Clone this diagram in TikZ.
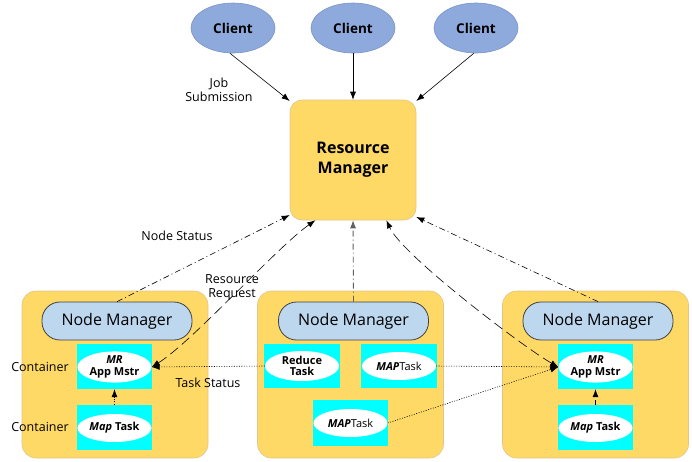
\documentclass[tikz,border=0pt]{standalone}
\usepackage{fontspec}
\setmainfont{Open Sans}
\usetikzlibrary{arrows.meta,shapes.geometric}
\definecolor{clientfill}{HTML}{8EA9DB}
\definecolor{clientdraw}{HTML}{7A93C4}
\definecolor{rmfill}{HTML}{FFD966}
\definecolor{rmdraw}{HTML}{E2C48A}
\definecolor{nmfill}{HTML}{BDD7EE}
\definecolor{nmdraw}{HTML}{404040}
\definecolor{cyanbox}{HTML}{00FFFF}
\definecolor{midline}{HTML}{606060}
\begin{document}
\begin{tikzpicture}[x=1pt,y=-1pt,
  client/.style={ellipse,fill=clientfill,draw=clientdraw,line width=0.6pt,minimum width=84pt,minimum height=50pt,inner sep=0pt,font=\fontsize{13.5}{15}\selectfont\bfseries},
  rmbox/.style={rectangle,rounded corners=12pt,fill=rmfill,draw=rmdraw,line width=0.6pt,minimum width=126pt,minimum height=120pt,align=center,font=\fontsize{16}{20}\selectfont\bfseries},
  nodebox/.style={rectangle,rounded corners=14pt,fill=rmfill,draw=rmdraw,line width=0.6pt,minimum width=186pt,minimum height=167pt},
  nmbox/.style={rectangle,rounded corners=18pt,fill=nmfill,draw=nmdraw,line width=0.8pt,minimum width=150pt,minimum height=38pt,font=\fontsize{16}{18}\selectfont},
  cbox/.style={rectangle,fill=cyanbox,minimum width=75pt,minimum height=45pt,inner sep=0pt},
  task/.style={ellipse,fill=white,minimum width=74pt,minimum height=28pt,inner sep=0pt,align=center,font=\fontsize{11}{12.5}\selectfont},
  lbl/.style={align=center,font=\fontsize{12.5}{14}\selectfont,inner sep=1pt},
  solidarrow/.style={-{Latex[length=8pt,width=6pt]},line width=0.6pt},
  statusline/.style={-{Latex[length=8pt,width=6pt]},line width=0.6pt,dash pattern=on 6pt off 3pt on 1pt off 3pt},
  reqline/.style={{Latex[length=8pt,width=6pt]}-{Latex[length=8pt,width=6pt]},line width=0.6pt,dash pattern=on 10pt off 5pt},
  dotline/.style={-{Latex[length=8pt,width=6pt]},line width=0.6pt,dash pattern=on 1pt off 1.5pt},
  innerdash/.style={-{Latex[length=8pt,width=6pt]},line width=0.6pt,dash pattern=on 5pt off 3pt}
]
\useasboundingbox (0,0) rectangle (692,461);

% clients
\node[client] (c1) at (233,28) {Client};
\node[client] (c2) at (353,28) {Client};
\node[client] (c3) at (476,28) {Client};

% resource manager
\node[rmbox] (rm) at (353,160) {Resource\\Manager};

% node containers
\node[nodebox] (ndL) at (115,374.5) {};
\node[nodebox] (ndM) at (350.5,374.5) {};
\node[nodebox] (ndR) at (595.5,374.5) {};

% node managers
\node[nmbox] (nmL) at (117,321) {Node Manager};
\node[nmbox] (nmM) at (353.5,321) {Node Manager};
\node[nmbox] (nmR) at (598,321) {Node Manager};

% cyan containers
\node[cbox] (bxLt) at (114.5,366.5) {};
\node[cbox] (bxLb) at (114.5,427.5) {};
\node[cbox,minimum width=76pt,minimum height=44pt] (bxMr) at (302,366) {};
\node[cbox,minimum width=76pt,minimum height=44pt] (bxMm) at (399,366) {};
\node[cbox,minimum height=46pt] (bxMb) at (350.5,423) {};
\node[cbox] (bxRt) at (595.5,366.5) {};
\node[cbox] (bxRb) at (595.5,427.5) {};

% tasks
\node[task] (amL) at (114.5,367) {\textbf{\textit{MR}}\\[-1pt]\textbf{App Mstr}};
\node[task] (mapL) at (114.5,428) {\textbf{\textit{Map}} \textbf{Task}};
\node[task,minimum height=30pt] (redT) at (302,366) {\textbf{Reduce}\\[-1pt]\textbf{Task}};
\node[task] (mapM) at (399,366) {\textbf{\textit{MAP}}Task};
\node[task] (mapB) at (350.5,423) {\textbf{\textit{MAP}}Task};
\node[task] (amR) at (595.5,367) {\textbf{\textit{MR}}\\[-1pt]\textbf{App Mstr}};
\node[task] (mapR) at (595.5,428) {\textbf{\textit{Map}} \textbf{Task}};

% labels
\node[lbl] (ljob) at (219,90) {Job\\Submission};
\node[lbl] (lns) at (177,236) {Node Status};
\node[lbl] (lrr) at (232,288) {Resource\\Request};
\node[lbl] (lts) at (208,383) {Task Status};
\node[lbl] (lc1) at (40,367) {Container};
\node[lbl] (lc2) at (40,427) {Container};

% client arrows
\draw[solidarrow] (c1.-97) -- (rm.137);
\draw[solidarrow] (c2.south) -- (rm.north);
\draw[solidarrow] (c3.-95) -- (rm.43);

% node status
\draw[statusline] (nmL.north) -- (rm.221);
\draw[statusline] (nmR.north) -- (rm.318);
\draw[statusline,draw=midline,line width=0.9pt] (nmM.north) -- (rm.south);

% resource requests
\draw[reqline] (amL.east) .. controls (192,342) and (276,248) .. (rm.238);
\draw[reqline] (amR.west) .. controls (523,347) and (402,255) .. (rm.299);

% task status
\draw[dotline] (redT.west) -- (amL.east);
\draw[dotline] (mapM.east) -- (amR.west);
\draw[dotline] (mapB.east) -- (amR.west);
\draw[dotline] (bxLb.north) -- (bxLt.south);
\draw[innerdash] (bxRb.north) -- (bxRt.south);

\end{tikzpicture}
\end{document}
